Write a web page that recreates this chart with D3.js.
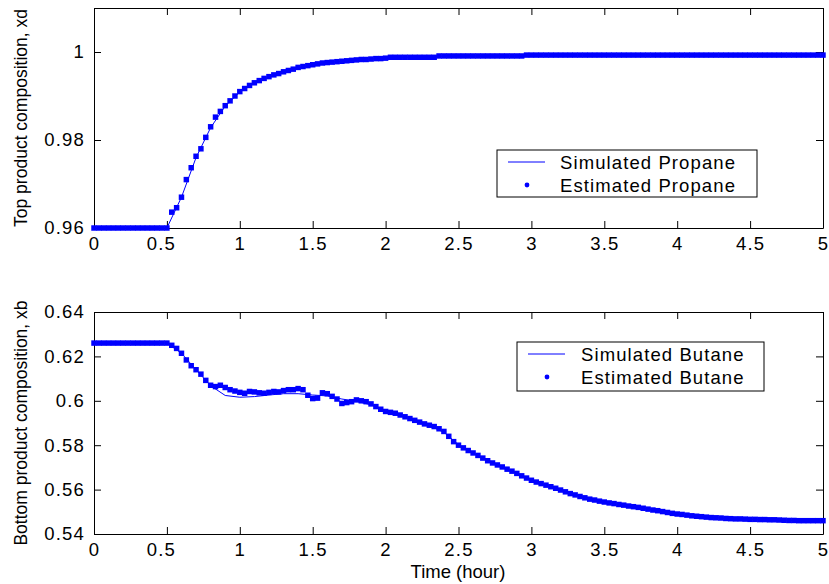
<!DOCTYPE html>
<html>
<head>
<meta charset="utf-8">
<script src="https://cdn.jsdelivr.net/npm/d3@7"></script>
<style>
  body { margin: 0; background: #fff; }
  svg text { font-family: "Liberation Sans", Arial, sans-serif; fill: #000; }
</style>
</head>
<body>
<svg id="chart" width="829" height="584"></svg>
<script>
// Time grid: simulated every 0.1 h, estimated every 2 min (1/30 h)
const simStep = 0.1;
const estStep = 1 / 30;
const xTicks = [0, 0.5, 1, 1.5, 2, 2.5, 3, 3.5, 4, 4.5, 5];
const topTicks = [0.96, 0.98, 1];
const bottomTicks = [0.54, 0.56, 0.58, 0.6, 0.62, 0.64];

// Top product composition (propane)
const simPropane = [
  0.96, 0.96, 0.96, 0.96, 0.96, 0.96,
  0.9670, 0.9760, 0.9828, 0.9877, 0.9909, 0.9929, 0.9943, 0.9954, 0.9964, 0.9971,
  0.9976, 0.9979, 0.9982, 0.9984, 0.9986, 0.9988, 0.9988, 0.9988,
  0.9991, 0.9991, 0.9991, 0.9991, 0.9991, 0.9991,
  0.9993, 0.9993, 0.9993, 0.9993, 0.9993, 0.9993, 0.9993, 0.9993, 0.9993, 0.9993,
  0.9993, 0.9993, 0.9993, 0.9993, 0.9993, 0.9993, 0.9993, 0.9993, 0.9993, 0.9993, 0.9993
];
const estPropane = [
  0.96, 0.96, 0.96, 0.96, 0.96, 0.96, 0.96, 0.96, 0.96, 0.96, 0.96, 0.96, 0.96, 0.96, 0.96, 0.96,
  0.9636, 0.9646, 0.9670, 0.9710, 0.9737, 0.9763, 0.9780, 0.9806, 0.9830, 0.9852,
  0.9865, 0.9878, 0.9889, 0.9900, 0.9910, 0.9917, 0.9924, 0.9930, 0.9935, 0.9940,
  0.9944, 0.9948, 0.9951, 0.9955, 0.9958, 0.9961, 0.9965, 0.9967, 0.9969, 0.9971,
  0.9973, 0.9975, 0.9976, 0.9977, 0.9978, 0.9979, 0.9980, 0.9981, 0.9982, 0.9983,
  0.9983, 0.9984, 0.9985, 0.9985, 0.9986,
  0.9988, 0.9988, 0.9988, 0.9988, 0.9988, 0.9988, 0.9988, 0.9988, 0.9988, 0.9988,
  0.9991, 0.9991, 0.9991, 0.9991, 0.9991, 0.9991, 0.9991, 0.9991, 0.9991, 0.9991,
  0.9991, 0.9991, 0.9991, 0.9991, 0.9991, 0.9991, 0.9991, 0.9991,
  0.9993, 0.9993, 0.9993, 0.9993, 0.9993, 0.9993, 0.9993, 0.9993, 0.9993, 0.9993,
  0.9993, 0.9993, 0.9993, 0.9993, 0.9993, 0.9993, 0.9993, 0.9993, 0.9993, 0.9993,
  0.9993, 0.9993, 0.9993, 0.9993, 0.9993, 0.9993, 0.9993, 0.9993, 0.9993, 0.9993,
  0.9993, 0.9993, 0.9993, 0.9993, 0.9993, 0.9993, 0.9993, 0.9993, 0.9993, 0.9993,
  0.9993, 0.9993, 0.9993, 0.9993, 0.9993, 0.9993, 0.9993, 0.9993, 0.9993, 0.9993,
  0.9993, 0.9993, 0.9993, 0.9993, 0.9993, 0.9993, 0.9993, 0.9993, 0.9993, 0.9993,
  0.9993, 0.9993
];

// Bottom product composition (butane)
const simButane = [
  0.626, 0.626, 0.626, 0.626, 0.626, 0.626,
  0.6214, 0.6140, 0.6068, 0.6024, 0.6016, 0.6019, 0.6026, 0.6032, 0.6032, 0.6026,
  0.6022, 0.6008, 0.5998, 0.5982, 0.5956, 0.5934, 0.5910, 0.5888, 0.5858, 0.5802,
  0.5764, 0.5730, 0.5702, 0.5673, 0.5642,
  0.5620, 0.5598, 0.5576, 0.5557, 0.5544, 0.5533, 0.5523, 0.5512, 0.5501, 0.5490,
  0.5482, 0.5476, 0.5472, 0.5468, 0.5466, 0.5465, 0.5463, 0.5461, 0.5460, 0.5460
];
const estButane = [
  0.626, 0.626, 0.626, 0.626, 0.626, 0.626, 0.626, 0.626, 0.626, 0.626, 0.626, 0.626, 0.626, 0.626, 0.626, 0.626,
  0.6250, 0.6236, 0.6214, 0.6184, 0.6158, 0.6140, 0.6120, 0.6092, 0.6070, 0.6064,
  0.6070, 0.6060, 0.6050, 0.6044, 0.6038, 0.6034, 0.6042, 0.6040, 0.6036, 0.6034,
  0.6038, 0.6042, 0.6040, 0.6046, 0.6050, 0.6050, 0.6055, 0.6050, 0.6025, 0.6010,
  0.6012, 0.6036, 0.6032, 0.6020, 0.6008, 0.5988, 0.5992, 0.5996, 0.6004, 0.6000,
  0.5996, 0.5986, 0.5974, 0.5962, 0.5952, 0.5948, 0.5944, 0.5936, 0.5928, 0.5920,
  0.5912, 0.5904, 0.5896, 0.5890, 0.5884, 0.5874, 0.5862, 0.5840, 0.5816, 0.5800,
  0.5788, 0.5776, 0.5765, 0.5754, 0.5742, 0.5730, 0.5720, 0.5711, 0.5702, 0.5692,
  0.5683, 0.5673, 0.5662, 0.5652, 0.5642, 0.5634, 0.5627, 0.5620, 0.5613, 0.5606,
  0.5598, 0.5590, 0.5582, 0.5576, 0.5569, 0.5563, 0.5557, 0.5553, 0.5548, 0.5544,
  0.5540, 0.5537, 0.5533, 0.5530, 0.5526, 0.5523, 0.5520, 0.5516, 0.5512, 0.5508,
  0.5505, 0.5501, 0.5497, 0.5493, 0.5490, 0.5488, 0.5485, 0.5482, 0.5480, 0.5478,
  0.5476, 0.5474, 0.5473, 0.5472, 0.5470, 0.5469, 0.5468, 0.5468, 0.5467, 0.5466,
  0.5466, 0.5465, 0.5465, 0.5464, 0.5464, 0.5463, 0.5462, 0.5461, 0.5461, 0.5460,
  0.5460, 0.5460, 0.5460, 0.5460, 0.5460
];

const svg = d3.select("#chart");
const blue = "#0000ff";
// MATLAB '.' markers come out as small blocky blobs at this resolution
const marker = d3.symbol(d3.symbolSquare, 30);
const x = d3.scaleLinear().domain([0, 5]).range([94, 823]);

function panel(p) {
  const y = d3.scaleLinear().domain(p.domain).range([p.bottom, p.top]);
  const g = svg.append("g");

  // frame + inward ticks on all four sides
  const axes = [
    [d3.axisBottom(x).tickValues(xTicks).tickFormat(d => String(d)), `translate(0,${p.bottom})`, true],
    [d3.axisTop(x).tickValues(xTicks).tickFormat(""), `translate(0,${p.top})`, false],
    [d3.axisLeft(y).tickValues(p.ticks).tickFormat(d => String(d)), `translate(94,0)`, true],
    [d3.axisRight(y).tickValues(p.ticks).tickFormat(""), `translate(823,0)`, false]
  ];
  axes.forEach(([ax, tr, labels]) => {
    ax.tickSizeInner(-7).tickSizeOuter(0).tickPadding(labels ? 9 : 0);
    const a = g.append("g").attr("transform", tr).call(ax);
    a.selectAll("path.domain").attr("stroke", "#000");
    a.selectAll(".tick line").attr("stroke", "#000");
    a.selectAll("text").style("font-size", "18.5px").style("letter-spacing", "1.2px");
  });
  g.selectAll("g").filter((d, i) => i === 2).selectAll("text").attr("x", -6);

  // simulated line
  g.append("path")
    .datum(p.sim)
    .attr("fill", "none")
    .attr("stroke", blue)
    .attr("stroke-width", 1)
    .attr("d", d3.line().x((d, i) => x(i * simStep)).y(d => y(d)));

  // estimated markers
  g.append("g").selectAll("path")
    .data(p.est)
    .join("path")
    .attr("transform", (d, i) => `translate(${x(i * estStep)},${y(d)})`)
    .attr("d", marker)
    .attr("fill", blue);

  // y label
  g.append("text")
    .attr("transform", `translate(27,${(p.top + p.bottom) / 2}) rotate(-90)`)
    .attr("text-anchor", "middle")
    .style("font-size", "17.5px")
    .text(p.label);

  // legend
  const L = p.legend;
  const lg = g.append("g");
  lg.append("rect").attr("x", L.x).attr("y", L.y).attr("width", L.w).attr("height", L.h)
    .attr("fill", "#fff").attr("stroke", "#000");
  lg.append("line").attr("x1", L.x + 11).attr("x2", L.x + 48)
    .attr("y1", L.y + 12).attr("y2", L.y + 12).attr("stroke", blue);
  lg.append("circle").attr("cx", L.x + 30).attr("cy", L.y + 35).attr("r", 2.4).attr("fill", blue);
  lg.selectAll("text").data(p.names).join("text")
    .attr("x", L.x + L.tx).attr("y", (d, i) => L.y + 18.5 + i * 23.5)
    .style("font-size", "18.5px").style("letter-spacing", "1.1px")
    .text(d => d);
}

panel({
  domain: [0.96, 1.01], top: 8, bottom: 228, ticks: topTicks,
  sim: simPropane, est: estPropane,
  label: "Top product composition, xd",
  names: ["Simulated Propane", "Estimated Propane"],
  legend: { x: 497, y: 150, w: 260, h: 47, tx: 63 }
});

panel({
  domain: [0.54, 0.64], top: 312, bottom: 534, ticks: bottomTicks,
  sim: simButane, est: estButane,
  label: "Bottom product composition, xb",
  names: ["Simulated Butane", "Estimated Butane"],
  legend: { x: 517, y: 342, w: 247, h: 49, tx: 64 }
});

svg.append("text")
  .attr("x", 458).attr("y", 578)
  .attr("text-anchor", "middle")
  .style("font-size", "18.5px")
  .text("Time (hour)");
</script>
</body>
</html>
